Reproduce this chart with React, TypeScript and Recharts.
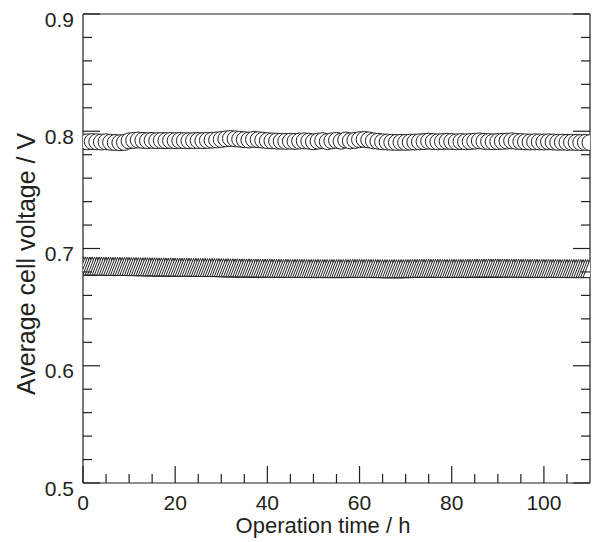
import { Scatter, ScatterChart, XAxis, YAxis } from 'recharts'

// average cell voltage, circles sampled every 1 h
const circleVoltage = [
  0.791, 0.791, 0.7912, 0.791, 0.7908, 0.791, 0.7906, 0.7904, 0.7902, 0.7905,
  0.7918, 0.7922, 0.7925, 0.7922, 0.792, 0.7922, 0.792, 0.7921, 0.792, 0.7921,
  0.792, 0.7921, 0.792, 0.7919, 0.792, 0.7921, 0.792, 0.7922, 0.7924, 0.7926,
  0.793, 0.7935, 0.7938, 0.7935, 0.7932, 0.7928, 0.7925, 0.793, 0.7928, 0.7924,
  0.792, 0.7918, 0.7916, 0.7915, 0.7914, 0.7915, 0.7914, 0.7916, 0.7918, 0.7915,
  0.791, 0.7916, 0.792, 0.7912, 0.7918, 0.7922, 0.7915, 0.7925, 0.7918, 0.7922,
  0.7928, 0.793, 0.7926, 0.7918, 0.7915, 0.791, 0.7908, 0.7906, 0.7905, 0.7906,
  0.7905, 0.7907, 0.7908, 0.791, 0.7912, 0.7915, 0.7912, 0.791, 0.7912, 0.7914,
  0.7912, 0.791, 0.7912, 0.791, 0.7912, 0.7915, 0.7918, 0.7914, 0.7912, 0.791,
  0.7912, 0.7914, 0.7916, 0.7918, 0.7914, 0.7912, 0.791, 0.7908, 0.791, 0.7909,
  0.7908, 0.791, 0.7908, 0.7906, 0.7907, 0.7905, 0.7906, 0.7905, 0.7904, 0.7905,
  0.7903,
]
const circleStep = 1

// triangles sampled every 0.5 h
const triangleVoltage = [
  0.6852, 0.6852, 0.6851, 0.6851, 0.6852, 0.685, 0.685, 0.6851, 0.685, 0.6849,
  0.6849, 0.685, 0.6849, 0.6848, 0.6848, 0.6849, 0.6848, 0.6847, 0.6847, 0.6848,
  0.6847, 0.6846, 0.6846, 0.6847, 0.6846, 0.6845, 0.6845, 0.6846, 0.6845, 0.6844,
  0.6844, 0.6845, 0.6844, 0.6843, 0.6843, 0.6844, 0.6843, 0.6842, 0.6843, 0.6842,
  0.6842, 0.6841, 0.6842, 0.6841, 0.6841, 0.684, 0.6841, 0.684, 0.684, 0.684,
  0.6839, 0.684, 0.6839, 0.6839, 0.6838, 0.6839, 0.6838, 0.6838, 0.6837, 0.6838,
  0.6837, 0.6837, 0.6836, 0.6837, 0.6836, 0.6836, 0.6835, 0.6836, 0.6835, 0.6835,
  0.6835, 0.6834, 0.6835, 0.6834, 0.6834, 0.6833, 0.6834, 0.6833, 0.6833, 0.6833,
  0.6832, 0.6833, 0.6832, 0.6832, 0.6831, 0.6832, 0.6831, 0.6831, 0.6832, 0.6831,
  0.6831, 0.683, 0.6831, 0.683, 0.683, 0.6831, 0.683, 0.683, 0.6829, 0.683,
  0.683, 0.6829, 0.683, 0.6829, 0.683, 0.683, 0.6829, 0.6829, 0.683, 0.6829,
  0.6829, 0.683, 0.6829, 0.6829, 0.683, 0.6829, 0.683, 0.6831, 0.683, 0.683,
  0.6831, 0.683, 0.683, 0.6831, 0.683, 0.683, 0.6829, 0.683, 0.6829, 0.6829,
  0.6829, 0.6828, 0.6829, 0.6828, 0.6828, 0.6829, 0.6828, 0.6828, 0.6829, 0.6828,
  0.6829, 0.6829, 0.683, 0.683, 0.6831, 0.683, 0.6831, 0.6832, 0.6831, 0.6831,
  0.6832, 0.6831, 0.6831, 0.6832, 0.6831, 0.6831, 0.683, 0.6831, 0.683, 0.683,
  0.683, 0.6831, 0.683, 0.683, 0.6831, 0.683, 0.6831, 0.6832, 0.6831, 0.6832,
  0.6832, 0.6833, 0.6832, 0.6833, 0.6834, 0.6833, 0.6834, 0.6834, 0.6833, 0.6834,
  0.6834, 0.6833, 0.6834, 0.6833, 0.6833, 0.6832, 0.6833, 0.6832, 0.6832, 0.6833,
  0.6832, 0.6831, 0.6832, 0.6831, 0.6831, 0.6832, 0.6831, 0.6831, 0.683, 0.6831,
  0.6831, 0.683, 0.6831, 0.683, 0.683, 0.6831, 0.683, 0.683, 0.6829, 0.683,
  0.683, 0.6829, 0.683, 0.6829, 0.6829, 0.683, 0.6829, 0.6829, 0.683, 0.6829,
  0.6829,
]
const triangleStep = 0.5

const xTicks = [0, 5, 10, 15, 20, 25, 30, 35, 40, 45, 50, 55, 60, 65, 70, 75, 80, 85, 90, 95, 100, 105]
const yTicks = [
  0.5, 0.52, 0.54, 0.56, 0.58, 0.6, 0.62, 0.64, 0.66, 0.68, 0.7, 0.72, 0.74, 0.76,
  0.78, 0.8, 0.82, 0.84, 0.86, 0.88, 0.9,
]

const circleData = circleVoltage.map((v, i) => ({ time: i * circleStep, voltage: v }))
const triangleData = triangleVoltage.map((v, i) => ({ time: i * triangleStep, voltage: v }))

const ink = '#231f20'
const font = '"Liberation Sans", Arial, Helvetica, sans-serif'
const MAJOR = 17
const MINOR = 9

const isMajorX = (v: number) => v % 20 === 0
const isMajorY = (v: number) => Math.abs(v * 10 - Math.round(v * 10)) < 1e-6

function BottomTick({ x, y, payload }: any) {
  const v = payload.value
  const major = isMajorX(v)
  return (
    <g>
      <line x1={x} y1={y} x2={x} y2={y - (major ? MAJOR : MINOR)} stroke={ink} strokeWidth={1.2} />
      {major && (
        <text x={x} y={y + 19} textAnchor='middle' dominantBaseline='central' fontSize={21} fontFamily={font} fill={ink}>
          {v}
        </text>
      )}
    </g>
  )
}

function TopTick({ x, y, payload }: any) {
  const major = isMajorX(payload.value)
  return <line x1={x} y1={y} x2={x} y2={y + (major ? MAJOR : MINOR)} stroke={ink} strokeWidth={1.2} />
}

function LeftTick({ x, y, payload }: any) {
  const v = payload.value
  const major = isMajorY(v)
  return (
    <g>
      <line x1={x} y1={y} x2={x + (major ? MAJOR : MINOR)} y2={y} stroke={ink} strokeWidth={1.2} />
      {major && (
        <text x={x - 9} y={y + 5} textAnchor='end' dominantBaseline='central' fontSize={21} fontFamily={font} fill={ink}>
          {v.toFixed(1)}
        </text>
      )}
    </g>
  )
}

function RightTick({ x, y, payload }: any) {
  const major = isMajorY(payload.value)
  return <line x1={x} y1={y} x2={x - (major ? MAJOR : MINOR)} y2={y} stroke={ink} strokeWidth={1.2} />
}

function CircleMark({ cx, cy }: any) {
  return <circle cx={cx} cy={cy} r={8} fill='#fff' stroke={ink} strokeWidth={1} />
}

function TriangleMark({ cx, cy }: any) {
  return (
    <path
      d={`M${cx},${cy - 9} L${cx + 7},${cy + 9} L${cx - 7},${cy + 9} Z`}
      fill='#fff'
      stroke={ink}
      strokeWidth={1}
    />
  )
}

export default function App() {
  return (
    <div style={{ position: 'absolute', left: 0, top: 0 }}>
      <ScatterChart width={596} height={542} margin={{ top: 13, right: 5, left: 0, bottom: 0 }}>
        <XAxis
          type='number'
          dataKey='time'
          domain={[0, 110]}
          allowDataOverflow
          ticks={xTicks}
          interval={0}
          height={59}
          tickSize={0}
          tickMargin={0}
          stroke={ink}
          strokeWidth={1.2}
          tick={<BottomTick />}
          label={{
            content: () => (
              <text x={323} y={525} textAnchor='middle' dominantBaseline='central' fontSize={22} fontFamily={font} fill={ink}>
                Operation time / h
              </text>
            ),
          }}
        />
        <XAxis
          xAxisId='top'
          orientation='top'
          type='number'
          domain={[0, 110]}
          allowDataOverflow
          ticks={xTicks}
          interval={0}
          height={1}
          tickSize={0}
          tickMargin={0}
          stroke={ink}
          strokeWidth={1.2}
          tick={<TopTick />}
        />
        <YAxis
          type='number'
          dataKey='voltage'
          domain={[0.5, 0.9]}
          allowDataOverflow
          ticks={yTicks}
          interval={0}
          width={83}
          tickSize={0}
          tickMargin={0}
          stroke={ink}
          strokeWidth={1.2}
          tick={<LeftTick />}
          label={{
            content: () => (
              <text
                x={26}
                y={264}
                transform='rotate(-90 26 264)'
                textAnchor='middle'
                dominantBaseline='central'
                fontSize={25}
                fontFamily={font}
                fill={ink}
              >
                Average cell voltage / V
              </text>
            ),
          }}
        />
        <YAxis
          yAxisId='right'
          orientation='right'
          type='number'
          domain={[0.5, 0.9]}
          allowDataOverflow
          ticks={yTicks}
          interval={0}
          width={1}
          tickSize={0}
          tickMargin={0}
          stroke={ink}
          strokeWidth={1.2}
          tick={<RightTick />}
        />
        <Scatter data={triangleData} shape={<TriangleMark />} isAnimationActive={false} />
        <Scatter data={circleData} shape={<CircleMark />} isAnimationActive={false} />
      </ScatterChart>
    </div>
  )
}
